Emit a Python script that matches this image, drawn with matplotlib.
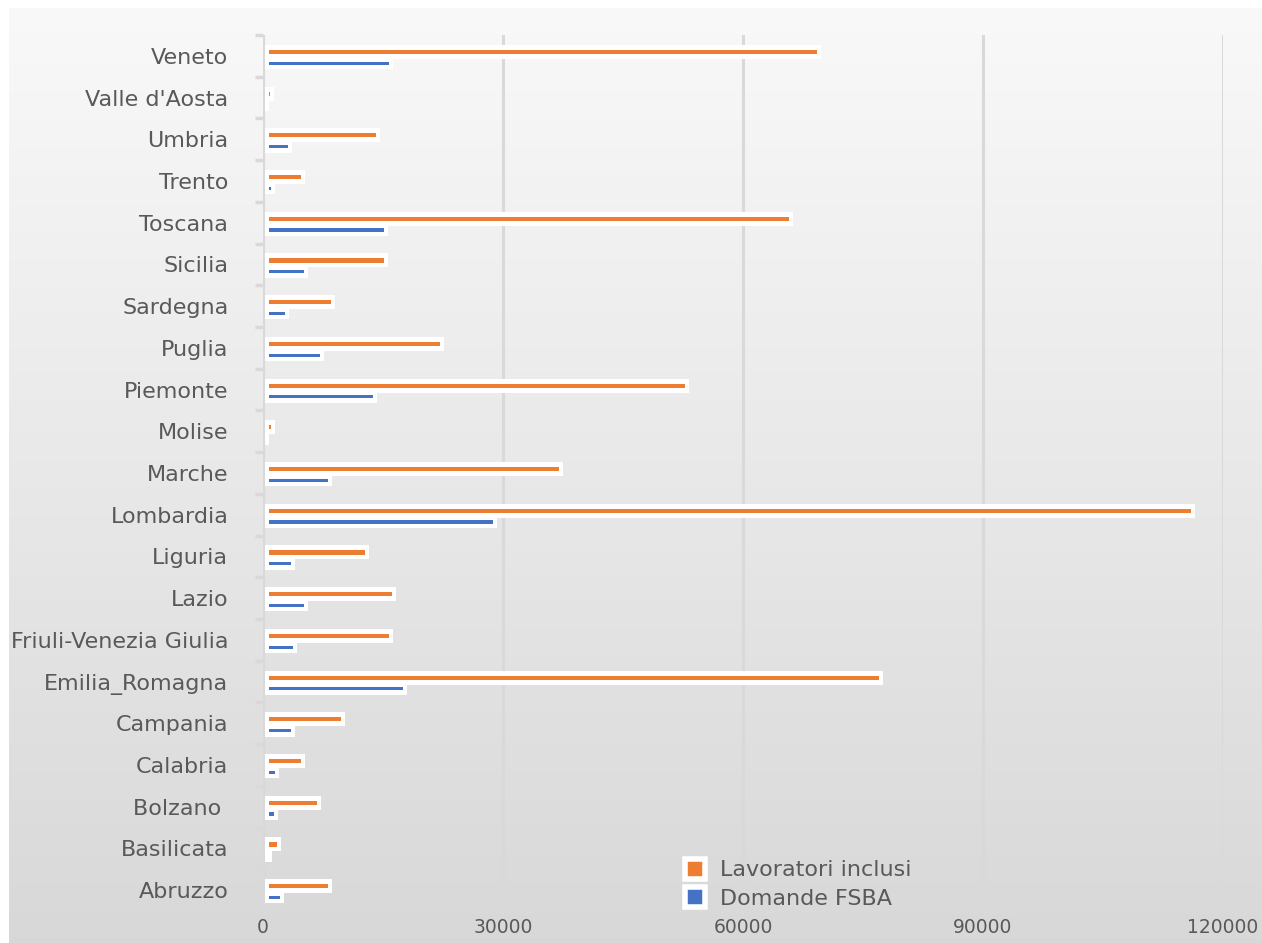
import numpy as np
import matplotlib
matplotlib.use("Agg")
import matplotlib.pyplot as plt
from matplotlib.patches import Patch

# ---- data (bottom to top) ----
regioni = ["Abruzzo", "Basilicata", "Bolzano ", "Calabria", "Campania",
           "Emilia_Romagna", "Friuli-Venezia Giulia", "Lazio", "Liguria",
           "Lombardia", "Marche", "Molise", "Piemonte", "Puglia", "Sardegna",
           "Sicilia", "Toscana", "Trento", "Umbria", "Valle d'Aosta", "Veneto"]
lavoratori = [8100, 1800, 6800, 4800, 9800, 77000, 15750, 16100, 12800, 115950,
              37000, 1000, 52700, 22100, 8450, 15100, 65700, 4800, 14100, 900, 69300]
domande = [2100, 600, 1400, 1450, 3450, 17450, 3800, 5150, 3450, 28750,
           8100, 300, 13800, 7100, 2800, 5150, 15100, 1050, 3150, 250, 15800]
xticks = [0, 30000, 60000, 90000, 120000]

ORANGE = "#ed7d31"
BLUE = "#4472c4"
TEXT = "#595959"
GRID = "#d9d9d9"

W, H = 1262, 943
fig = plt.figure(figsize=(W / 100, H / 100), dpi=100)
fig.patch.set_facecolor("white")

# gradient background panel
bg = fig.add_axes([9 / W, 0, 1 - 9 / W, 1 - 8 / H], zorder=-5)
grad = np.linspace(0.976, 0.847, 256).reshape(-1, 1)
bg.imshow(np.dstack([grad, grad, grad]), aspect="auto", extent=[0, 1, 0, 1])
bg.axis("off")

x0, x1 = 263, 1223
y_top, y_bot = 35, 911
ax = fig.add_axes([x0 / W, 1 - y_bot / H, (x1 - x0) / W, (y_bot - y_top) / H])
ax.patch.set_alpha(0)
ax.set_xlim(0, 120000)
ax.set_ylim(-0.5, len(regioni) - 0.5)

px = 120000 / (x1 - x0)   # data units per pixel
y = np.arange(len(regioni))

def draw_series(vals, col, box_c, box_h, strip_c, strip_h):
    vals = np.array(vals, dtype=float)
    # white frame, then the thin coloured strip inside it
    ax.barh(y + box_c, vals + 2 * px, left=2 * px, height=box_h,
            color="white", zorder=3)
    ax.barh(y + strip_c, np.clip(vals - 6 * px, 0, None), left=6 * px,
            height=strip_h, color=col, zorder=4)

draw_series(lavoratori, ORANGE, 0.097, 0.335, 0.095, 0.10)
draw_series(domande, BLUE, -0.195, 0.25, -0.175, 0.075)

# axes styling
for s in ax.spines.values():
    s.set_visible(False)
ax.axvline(0, color=GRID, lw=3, zorder=2)
ax.set_xticks(xticks)
ax.set_xticklabels([str(t) for t in xticks])
ax.grid(axis="x", color=GRID, lw=2.2, zorder=1)
ax.set_yticks(y)
ax.set_yticklabels(regioni)
ax.set_yticks(np.arange(-0.5, len(regioni), 1.0), minor=True)
ax.tick_params(axis="y", which="major", length=0, pad=25, labelsize=16,
               labelcolor=TEXT)
ax.tick_params(axis="y", which="minor", length=6, width=2.5, color=GRID)
ax.tick_params(axis="x", length=0, pad=5, labelsize=13.5, labelcolor=TEXT)

handles = [Patch(facecolor=ORANGE, edgecolor="white", lw=4, label="Lavoratori inclusi"),
           Patch(facecolor=BLUE, edgecolor="white", lw=4, label="Domande FSBA")]
fig.legend(handles=handles, loc="upper left",
           bbox_to_anchor=(676 / W, 1 - 850 / H), frameon=False,
           fontsize=16, labelcolor=TEXT, handlelength=0.9, handleheight=1.0,
           handletextpad=0.7, labelspacing=0.3, borderaxespad=0)

fig.savefig("out.png", dpi=100)
